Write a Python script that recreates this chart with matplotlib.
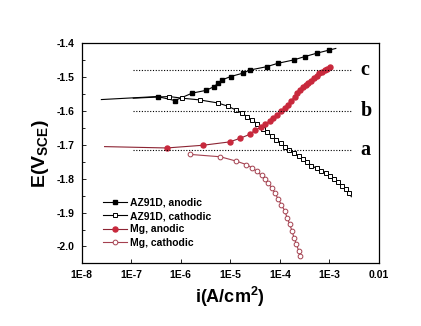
import matplotlib
matplotlib.use("Agg")
import matplotlib.pyplot as plt
from matplotlib.ticker import FixedLocator, MultipleLocator
from matplotlib import font_manager

# ---------------- data ----------------
# AZ91D anodic (first / last point: line only)
az_an_i = [2.5e-8, 3.4e-7, 7.6e-7, 1.7e-6, 3.2e-6, 4.7e-6, 5.6e-6, 6.8e-6, 1.02e-5,
           1.8e-5, 2.45e-5, 5.4e-5, 9.1e-5, 1.9e-4, 3.2e-4, 5.6e-4, 9.8e-4, 1.35e-3]
az_an_E = [-1.566, -1.557, -1.569, -1.547, -1.539, -1.528, -1.518, -1.508, -1.498,
           -1.488, -1.479, -1.469, -1.459, -1.449, -1.439, -1.429, -1.420, -1.415]

# AZ91D cathodic (first / last point: line only)
az_ca_i = [1.1e-7, 5.8e-7, 1.07e-6, 2.4e-6, 5.6e-6, 9.1e-6, 1.3e-5, 1.75e-5, 2.2e-5,
           2.8e-5, 3.5e-5, 4.5e-5, 5.6e-5, 6.8e-5, 8.5e-5, 1.05e-4, 1.26e-4, 1.55e-4,
           1.9e-4, 2.45e-4, 2.95e-4, 3.55e-4, 4.35e-4, 5.5e-4, 6.9e-4, 8.4e-4, 1.02e-3,
           1.23e-3, 1.48e-3, 1.78e-3, 2.14e-3, 2.48e-3, 2.78e-3]
az_ca_E = [-1.562, -1.557, -1.562, -1.567, -1.576, -1.586, -1.597, -1.607, -1.617,
           -1.627, -1.638, -1.653, -1.663, -1.673, -1.684, -1.694, -1.706, -1.716,
           -1.724, -1.734, -1.743, -1.751, -1.761, -1.769, -1.776, -1.784, -1.792,
           -1.800, -1.810, -1.820, -1.829, -1.841, -1.853]

# Mg anodic (first point: line only)
mg_an_i = [2.9e-8, 5.2e-7, 2.8e-6, 9.8e-6, 1.6e-5, 2.45e-5, 3.15e-5, 4.1e-5, 5.0e-5,
           6.3e-5, 7.3e-5, 8.8e-5, 1.07e-4, 1.26e-4, 1.46e-4, 1.7e-4, 2.0e-4, 2.25e-4,
           2.5e-4, 3.0e-4, 3.4e-4, 3.7e-4, 4.3e-4, 5.0e-4, 5.6e-4, 6.3e-4, 7.1e-4,
           8.0e-4, 8.9e-4, 1.02e-3]
mg_an_E = [-1.705, -1.709, -1.701, -1.691, -1.680, -1.669, -1.657, -1.648, -1.638,
           -1.630, -1.621, -1.611, -1.601, -1.591, -1.581, -1.570, -1.557, -1.548,
           -1.538, -1.530, -1.523, -1.518, -1.510, -1.501, -1.495, -1.488, -1.484,
           -1.479, -1.475, -1.471]

# Mg cathodic
mg_ca_i = [1.53e-6, 6.3e-6, 1.33e-5, 2.1e-5, 2.8e-5, 3.4e-5, 4.3e-5, 5.0e-5, 5.8e-5,
           6.8e-5, 7.9e-5, 9.2e-5, 1.07e-4, 1.26e-4, 1.4e-4, 1.58e-4, 1.76e-4, 1.93e-4,
           2.16e-4, 2.4e-4, 2.6e-4]
mg_ca_E = [-1.728, -1.735, -1.748, -1.758, -1.768, -1.778, -1.790, -1.800, -1.812,
           -1.826, -1.841, -1.859, -1.876, -1.895, -1.915, -1.934, -1.954, -1.974,
           -1.993, -2.013, -2.028]

# reference potential levels
level_E = [-1.478, -1.600, -1.715]
level_names = ["c", "b", "a"]
level_i_range = [1.07e-7, 2.8e-3]

x_ticks = [1e-8, 1e-7, 1e-6, 1e-5, 1e-4, 1e-3, 1e-2]
x_tick_labels = ["1E-8", "1E-7", "1E-6", "1E-5", "1E-4", "1E-3", "0.01"]
y_ticks = [-1.4, -1.5, -1.6, -1.7, -1.8, -1.9, -2.0]

legend_labels = ["AZ91D, anodic", "AZ91D, cathodic", "Mg, anodic", "Mg, cathodic"]

# ---------------- fonts ----------------
names = {f.name for f in font_manager.fontManager.ttflist}
sans = "Liberation Sans Narrow" if "Liberation Sans Narrow" in names else "Liberation Sans"
plt.rcParams["font.family"] = [sans, "DejaVu Sans"]
plt.rcParams["mathtext.fontset"] = "custom"
plt.rcParams["mathtext.rm"] = sans
plt.rcParams["mathtext.bf"] = sans + ":bold"

# ---------------- plot ----------------
fig = plt.figure(figsize=(4.21, 3.26), dpi=100)
ax = fig.add_axes([0.194, 0.192, 0.706, 0.675])
ax.set_xscale("log")

red = "#c8283c"
darkred = "#8c2433"
pink = "#a4404f"

l1, = ax.plot(az_an_i, az_an_E, color="black", lw=0.8, marker="s", ms=3.2,
              mfc="black", mec="black", markevery=list(range(1, len(az_an_i) - 1)))
l2, = ax.plot(az_ca_i, az_ca_E, color="black", lw=0.8, marker="s", ms=3.2,
              mfc="white", mec="black", mew=0.7,
              markevery=list(range(1, len(az_ca_i) - 1)))
l3, = ax.plot(mg_an_i, mg_an_E, color=darkred, lw=0.8, marker="o", ms=3.6,
              mfc=red, mec=red, markevery=list(range(1, len(mg_an_i))))
l4, = ax.plot(mg_ca_i, mg_ca_E, color=pink, lw=0.8, marker="o", ms=3.4,
              mfc="white", mec=pink, mew=0.7)

for E, name in zip(level_E, level_names):
    ax.plot(level_i_range, [E, E], color="black", lw=0.8, ls=(0, (1, 1.5)))
    ax.text(4.3e-3, E, name, fontsize=14.5, fontweight="bold",
            family=["Liberation Serif", "DejaVu Serif"], va="center", ha="left")

ax.set_xlim(1e-8, 1e-2)
ax.set_ylim(-2.05, -1.4)
ax.xaxis.set_major_locator(FixedLocator(x_ticks))
ax.xaxis.set_minor_locator(FixedLocator([]))
ax.set_xticklabels(x_tick_labels)
ax.yaxis.set_major_locator(FixedLocator(y_ticks))
ax.yaxis.set_minor_locator(MultipleLocator(0.05))
ax.set_yticklabels(["%.1f" % v for v in y_ticks])
ax.tick_params(which="both", direction="in", top=False, right=False,
               labelsize=7.5, width=0.6)
ax.tick_params(which="major", length=3, pad=5)
ax.tick_params(which="minor", length=2)
for lab in ax.get_xticklabels() + ax.get_yticklabels():
    lab.set_fontweight("bold")
for s in ax.spines.values():
    s.set_linewidth(0.9)

ax.set_xlabel("i(A/cm$^\\mathbf{2}$)", fontsize=13, fontweight="bold", labelpad=3)
ax.set_ylabel("E(V$_\\mathbf{SCE}$)", fontsize=14, fontweight="bold", labelpad=4)

leg = ax.legend([l1, l2, l3, l4], legend_labels, loc="upper left",
                bbox_to_anchor=(0.058, 0.318), frameon=False,
                prop={"size": 7.5, "weight": "bold"}, handlelength=2.3,
                handletextpad=0.25, labelspacing=0.33, borderaxespad=0)

fig.savefig("out.png", dpi=100)
